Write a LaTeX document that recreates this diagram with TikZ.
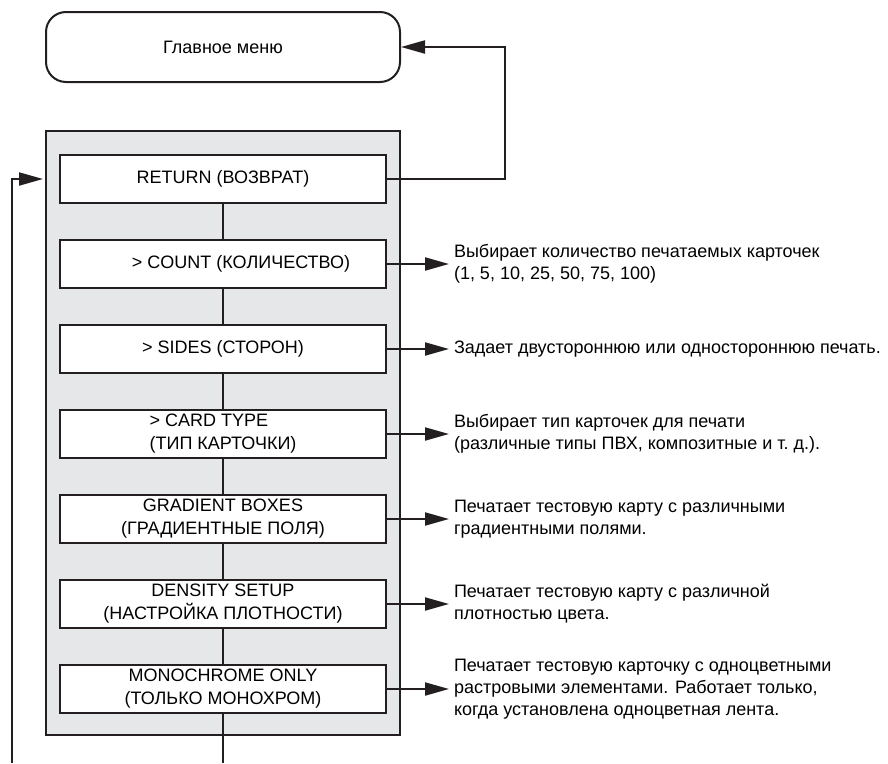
\documentclass[tikz,border=0pt]{standalone}
\usepackage{fontspec}
\setmainfont{Liberation Sans}
\usepackage{tikz}
\usetikzlibrary{arrows.meta,positioning}
\usepackage{xcolor}
\definecolor{InkDark}{HTML}{231F20}
\definecolor{PanelGray}{HTML}{E6E7E8}

\tikzset{
  menubox/.style={draw=InkDark,line width=2pt,rounded corners=20pt,minimum width=354pt,minimum height=70pt,font=\fontsize{18}{23}\selectfont},
  itembox/.style={draw=InkDark,line width=2pt,fill=white,minimum width=326pt,minimum height=48pt,inner sep=0pt,align=center,font=\fontsize{18}{23}\selectfont},
  descr/.style={anchor=west,align=left,inner xsep=5pt,inner ysep=0pt,outer sep=0pt,font=\fontsize{18}{22}\selectfont},
  link/.style={draw=InkDark,line width=2pt},
  flow/.style={link,-{Triangle[length=24pt,width=13pt]}}
}

\begin{document}
\begin{tikzpicture}[x=1pt,y=-1pt]
\useasboundingbox (0,0) rectangle (888,763);
\node[menubox] (menu) at (223,47) {Главное меню};
\node[draw=InkDark,line width=2pt,fill=PanelGray,minimum width=354pt,minimum height=604pt] (panel) at (223,433) {};
% menu items
\node[itembox] (ret) at (223,179) {RETURN (ВОЗВРАТ)};
\node[itembox,below=35pt of ret] (cnt) {\hspace*{36pt}> COUNT (КОЛИЧЕСТВО)};
\node[itembox,below=35pt of cnt] (sides) {> SIDES (СТОРОН)};
\node[itembox,below=35pt of sides,align=left] (ctype) {> CARD TYPE\\(ТИП КАРТОЧКИ)};
\node[itembox,below=35pt of ctype] (grad) {GRADIENT BOXES\\(ГРАДИЕНТНЫЕ ПОЛЯ)};
\node[itembox,below=35pt of grad] (dens) {DENSITY SETUP\\(НАСТРОЙКА ПЛОТНОСТИ)};
\node[itembox,below=35pt of dens] (mono) {MONOCHROME ONLY\\(ТОЛЬКО МОНОХРОМ)};
\draw[link] (ret) -- (cnt) (cnt) -- (sides) (sides) -- (ctype)
  (ctype) -- (grad) (grad) -- (dens) (dens) -- (mono);
% descriptions
\node[descr,right=62pt of cnt] (cntd) {Выбирает количество печатаемых карточек\\(1, 5, 10, 25, 50, 75, 100)};
\node[descr,right=62pt of sides] (sidesd) {Задает двустороннюю или одностороннюю печать.};
\node[descr,right=62pt of ctype] (ctyped) {Выбирает тип карточек для печати\\(различные типы ПВХ, композитные и т.~д.).};
\node[descr,right=62pt of grad] (gradd) {Печатает тестовую карту с различными\\градиентными полями.};
\node[descr,right=62pt of dens] (densd) {Печатает тестовую карту с различной\\плотностью цвета.};
\node[descr,right=62pt of mono] (monod) {Печатает тестовую карточку с одноцветными\\растровыми элементами. Работает только,\\когда установлена одноцветная лента.};
\foreach \a/\b in {cnt/cntd,sides/sidesd,ctype/ctyped,grad/gradd,dens/densd,mono/monod}
  \draw[flow] (\a.east) -- (\b.west);
% return and loop lines
\draw[flow] (ret.east) -- ++(118,0) |- (menu.east);
\coordinate (loopend) at (12,763);
\coordinate (downend) at (223,763);
\draw[flow] (loopend) |- ([xshift=-2pt]panel.west |- ret.west);
\draw[link] (mono.south) -- (downend);
\end{tikzpicture}
\end{document}
